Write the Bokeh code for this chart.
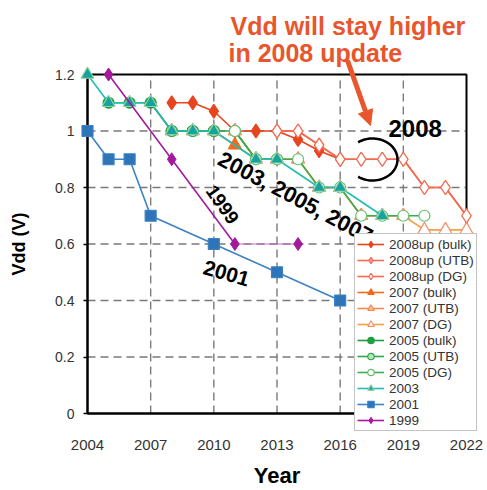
import numpy as np
from bokeh.plotting import figure
from bokeh.models import (Legend, LegendItem, Label, Arrow, NormalHead, FixedTicker,
                          Range1d, NumeralTickFormatter)
from bokeh.embed import file_html
from bokeh.resources import INLINE

# ---------------- data ----------------
x_ticks = [2004, 2007, 2010, 2013, 2016, 2019, 2022]
y_ticks = [0, 0.2, 0.4, 0.6, 0.8, 1.0, 1.2]

yr_08_bulk = [2008, 2009, 2010, 2011, 2012, 2013, 2014, 2015, 2016]
vdd_08_bulk = [1.1, 1.1, 1.07, 1.0, 1.0, 1.0, 0.97, 0.93, 0.9]
yr_08_utb = [2013, 2014, 2015, 2016, 2017, 2018, 2019, 2020, 2021, 2022]
vdd_08_utb = [1.0, 1.0, 0.95, 0.9, 0.9, 0.9, 0.9, 0.8, 0.8, 0.7]
yr_08_dg = [2013, 2014, 2015, 2016, 2017, 2018, 2019, 2020, 2021, 2022]
vdd_08_dg = [1.0, 1.0, 0.95, 0.9, 0.9, 0.9, 0.9, 0.8, 0.8, 0.7]

yr_07_bulk = [2007, 2008, 2009, 2010, 2011, 2012, 2013]
vdd_07_bulk = [1.1, 1.0, 1.0, 1.0, 0.95, 0.9, 0.9]
yr_07_utb = [2011, 2012, 2013, 2014, 2015, 2016, 2017, 2018, 2019]
vdd_07_utb = [1.0, 0.9, 0.9, 0.9, 0.8, 0.8, 0.7, 0.7, 0.7]
yr_07_dg = [2011, 2012, 2013, 2014, 2015, 2016, 2017, 2018, 2019, 2020, 2021, 2022]
vdd_07_dg = [1.0, 0.9, 0.9, 0.9, 0.8, 0.8, 0.7, 0.7, 0.7, 0.65, 0.65, 0.65]

yr_05_bulk = [2005, 2006, 2007, 2008, 2009, 2010]
vdd_05_bulk = [1.1, 1.1, 1.1, 1.0, 1.0, 1.0]
yr_05_utb = [2008, 2009, 2010, 2011, 2012, 2013]
vdd_05_utb = [1.0, 1.0, 1.0, 1.0, 0.9, 0.9]
yr_05_dg = [2011, 2012, 2013, 2014, 2015, 2016, 2017, 2018, 2019, 2020]
vdd_05_dg = [1.0, 0.9, 0.9, 0.9, 0.8, 0.8, 0.7, 0.7, 0.7, 0.7]

yr_03 = [2004, 2005, 2006, 2007, 2008, 2009, 2010, 2012, 2013, 2015, 2016, 2018]
vdd_03 = [1.2, 1.1, 1.1, 1.1, 1.0, 1.0, 1.0, 0.9, 0.9, 0.8, 0.8, 0.7]

yr_01 = [2004, 2005, 2006, 2007, 2010, 2013, 2016]
vdd_01 = [1.0, 0.9, 0.9, 0.7, 0.6, 0.5, 0.4]

yr_99 = [2005, 2008, 2011, 2014]
vdd_99 = [1.2, 0.9, 0.6, 0.6]

# ---------------- layout (frame = whole canvas; data box placed inside) ----------------
W, H = 487, 490
BOX_L, BOX_R, BOX_T, BOX_B = 87, 466, 74, 413   # pixel edges of the data box
XMIN, XMAX, YMIN, YMAX = 2004, 2022, 0.0, 1.2
sx = (XMAX - XMIN) / (BOX_R - BOX_L)
sy = (YMAX - YMIN) / (BOX_B - BOX_T)

def X(px):
    return XMIN + (px - BOX_L) * sx

def Y(py):
    return YMIN + (BOX_B - py) * sy

FONT = "Liberation Sans"
p = figure(width=W, height=H, output_backend="svg", toolbar_location=None,
           x_range=Range1d(X(0), X(W)), y_range=Range1d(Y(H), Y(0)),
           min_border=0, min_border_left=0, min_border_right=0,
           min_border_top=0, min_border_bottom=0,
           background_fill_color="white", border_fill_color="white")
p.outline_line_color = None
p.xgrid.visible = False
p.ygrid.visible = False

xa, ya = p.xaxis[0], p.yaxis[0]
for ax in (xa, ya):
    ax.axis_line_color = "black"
    ax.axis_line_width = 2
    ax.major_label_text_font = FONT
    ax.major_label_text_color = "#333333"
    ax.axis_label_text_font = FONT
    ax.axis_label_text_font_style = "bold"
    ax.axis_label_text_color = "black"
    ax.minor_tick_line_color = None
    ax.level = "underlay"

xa.fixed_location = 0
xa.bounds = (XMIN, XMAX)
xa.ticker = FixedTicker(ticks=x_ticks)
xa.major_tick_out = 0
xa.major_tick_in = 0
xa.major_label_text_font_size = "15px"
xa.major_label_standoff = 26
xa.axis_label = "Year"
xa.axis_label_text_font_size = "22px"
xa.axis_label_standoff = 10

ya.fixed_location = 2004
ya.bounds = (YMIN, YMAX)
ya.ticker = FixedTicker(ticks=y_ticks)
ya.formatter = NumeralTickFormatter(format="0.[0]")
ya.major_tick_out = 4
ya.major_tick_in = 0
ya.major_tick_line_color = "black"
ya.major_tick_line_width = 1.5
ya.major_label_text_font_size = "14px"
ya.major_label_standoff = 9
ya.axis_label = "Vdd (V)"
ya.axis_label_text_font_size = "18px"
ya.axis_label_standoff = 23

# dashed grid (inner tick positions)
gx = x_ticks[1:-1]
gy = y_ticks[1:-1]
p.segment(x0=gx, x1=gx, y0=[YMIN] * len(gx), y1=[YMAX] * len(gx),
          line_color="#7a7a7a", line_dash="8 5", line_width=1.4, level="underlay")
p.segment(x0=[XMIN] * len(gy), x1=[XMAX] * len(gy), y0=gy, y1=gy,
          line_color="#7a7a7a", line_dash="8 5", line_width=1.4, level="underlay")
# plot box outline
p.quad(left=[XMIN], right=[XMAX], bottom=[YMIN], top=[YMAX], fill_color=None,
       line_color="black", line_width=2, level="underlay")

items = []

def series(label, xs, ys, marker, line_color, fill_color, mline_color=None,
           size=11, lw=1.6):
    lr = p.line(xs, ys, line_color=line_color, line_width=lw)
    sr = p.scatter(xs, ys, marker=marker, size=size, fill_color=fill_color,
                   line_color=mline_color or line_color, line_width=1.2)
    items.append(LegendItem(label=label, renderers=[lr, sr]))

series("2008up (bulk)", yr_08_bulk, vdd_08_bulk, "diamond", "#E8441E", "#E8441E", size=14)
series("2008up (UTB)", yr_08_utb, vdd_08_utb, "diamond", "#F26B50", "#F5A3A8", size=14)
series("2008up (DG)", yr_08_dg, vdd_08_dg, "diamond", "#F36A50", "white", size=14)
series("2007 (bulk)", yr_07_bulk, vdd_07_bulk, "triangle", "#F26A1C", "#F26A1C", size=13)
series("2007 (UTB)", yr_07_utb, vdd_07_utb, "triangle", "#F48A50", "#FBC8A0", size=13)
series("2007 (DG)", yr_07_dg, vdd_07_dg, "triangle", "#F7A03C", "white", mline_color="#F6906A", size=13)
series("2005 (bulk)", yr_05_bulk, vdd_05_bulk, "circle", "#1F9E3E", "#1F9E3E", size=11)
series("2005 (UTB)", yr_05_utb, vdd_05_utb, "circle", "#2DA84A", "#B8E6B8", size=11)
series("2005 (DG)", yr_05_dg, vdd_05_dg, "circle", "#3DAE4E", "white", mline_color="#66C070", size=11)
series("2003", yr_03, vdd_03, "triangle", "#22BDB4", "#15A3A0", mline_color="#9ACFA0", size=13)
series("2001", yr_01, vdd_01, "square", "#3C82C4", "#2E74B8", size=11)

# 1999: main line plus a thin flat tail
lr99 = p.line(yr_99[:3], vdd_99[:3], line_color="#A31A9E", line_width=1.6)
p.line(yr_99[2:], vdd_99[2:], line_color="#C36BC0", line_width=1)
sr99 = p.scatter(yr_99, vdd_99, marker="diamond", size=13, fill_color="#A31A9E",
                 line_color="#A31A9E")
items.append(LegendItem(label="1999", renderers=[lr99, sr99]))

legend = Legend(items=items, location=(354, H - 431), orientation="vertical",
                label_text_font=FONT, label_text_font_size="13.5px",
                label_text_color="#333333", glyph_width=27, glyph_height=16,
                label_height=16, spacing=0, padding=2, margin=0,
                border_line_color="#888888", border_line_width=1,
                background_fill_color="white", background_fill_alpha=1.0,
                label_standoff=5)
p.add_layout(legend, "center")

# ---------------- annotations ----------------
red = "#E9552C"
p.add_layout(Label(x=X(230), y=Y(25), text="Vdd will stay higher", text_font=FONT,
                   text_font_size="25px", text_font_style="bold", text_color=red,
                   text_baseline="alphabetic", text_align="left"))
p.add_layout(Label(x=X(228), y=Y(52), text="in 2008 update", text_font=FONT,
                   text_font_size="25px", text_font_style="bold", text_color=red,
                   text_baseline="alphabetic", text_align="left"))
p.add_layout(Arrow(end=NormalHead(size=15, fill_color=red, line_color=red),
                   x_start=X(347), y_start=Y(60), x_end=X(370), y_end=Y(125),
                   line_color=red, line_width=5))
p.add_layout(Label(x=X(388), y=Y(128), text="2008", text_font=FONT,
                   text_font_size="24px", text_font_style="bold", text_color="black",
                   text_baseline="alphabetic", text_align="left"))

# bracket-like arc around the 2008 DG points
t = np.linspace(np.radians(125), np.radians(-125), 60)
cx, cy, rx, ry = X(372), Y(159), 25 * sx, 21 * sy
p.line(cx + rx * np.cos(t), cy + ry * np.sin(t), line_color="black", line_width=2.5)

p.add_layout(Label(x=X(222), y=Y(204), text="1999", text_font=FONT,
                   text_font_size="19px", text_font_style="bold", text_color="black",
                   text_baseline="middle", text_align="center", angle=-55,
                   angle_units="deg"))
p.add_layout(Label(x=X(226), y=Y(273), text="2001", text_font=FONT,
                   text_font_size="21px", text_font_style="bold", text_color="black",
                   text_baseline="middle", text_align="center", angle=-16,
                   angle_units="deg"))
p.add_layout(Label(x=X(295), y=Y(197), text="2003, 2005, 2007", text_font=FONT,
                   text_font_size="22px", text_font_style="bold", text_color="black",
                   text_baseline="middle", text_align="center", angle=-28,
                   angle_units="deg"))

open("out.html", "w").write(file_html(p, INLINE))
